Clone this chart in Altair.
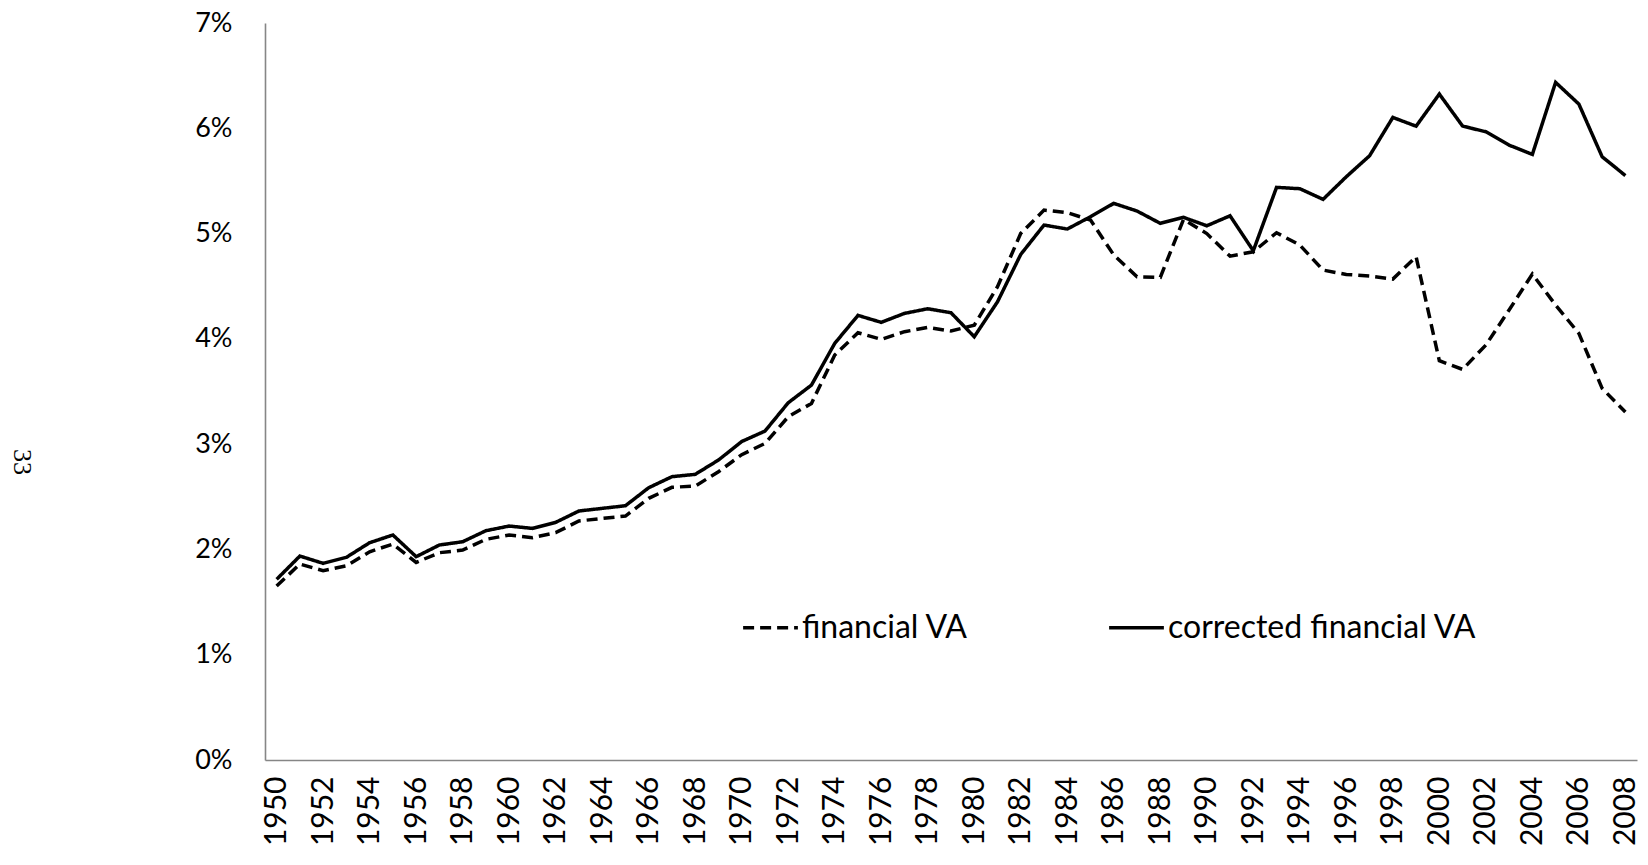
import altair as alt
import pandas as pd

years = list(range(1950, 2009))

corrected_va = [
    1.716, 1.937, 1.868, 1.925, 2.064, 2.137, 1.931, 2.042, 2.073, 2.178,
    2.222, 2.200, 2.257, 2.365, 2.390, 2.415, 2.586, 2.691, 2.713, 2.849,
    3.025, 3.124, 3.393, 3.561, 3.957, 4.223, 4.157, 4.242, 4.286, 4.248,
    4.020, 4.352, 4.802, 5.081, 5.043, 5.160, 5.287, 5.214, 5.097, 5.154,
    5.074, 5.169, 4.837, 5.439, 5.426, 5.325, 5.540, 5.739, 6.103, 6.020,
    6.325, 6.021, 5.967, 5.840, 5.752, 6.436, 6.230, 5.730, 5.551,
]

financial_va = [
    1.652, 1.861, 1.798, 1.845, 1.978, 2.051, 1.877, 1.969, 1.994, 2.096,
    2.136, 2.112, 2.159, 2.270, 2.295, 2.317, 2.485, 2.590, 2.602, 2.738,
    2.900, 3.007, 3.260, 3.387, 3.846, 4.058, 3.995, 4.068, 4.109, 4.074,
    4.130, 4.495, 5.002, 5.223, 5.198, 5.128, 4.796, 4.590, 4.584, 5.135,
    5.000, 4.786, 4.827, 5.008, 4.891, 4.653, 4.612, 4.596, 4.568, 4.780,
    3.792, 3.710, 3.941, 4.274, 4.615, 4.321, 4.052, 3.530, 3.305,
]

series_names = ["financial VA", "corrected financial VA"]
x_tick_labels = list(range(1950, 2009, 2))
y_tick_values = [0, 1, 2, 3, 4, 5, 6, 7]
page_number = "33"

rows = []
for yr, v in zip(years, financial_va):
    rows.append({"year": yr, "value": v, "series": series_names[0]})
for yr, v in zip(years, corrected_va):
    rows.append({"year": yr, "value": v, "series": series_names[1]})
df = pd.DataFrame(rows)

FONT = "Lato"

lines = alt.Chart(df).mark_line(strokeWidth=3.5, color="black").encode(
    x=alt.X(
        "year:Q",
        scale=alt.Scale(domain=[1949.5, 2008.5], nice=False, zero=False),
        axis=alt.Axis(
            values=x_tick_labels, format="d", labelAngle=270, ticks=False, grid=False,
            title=None, labelFont=FONT, labelFontSize=30, labelColor="black",
            labelPadding=16, domainColor="#868686", domainWidth=1.6,
            labelAlign="right", labelBaseline="middle", labelFlush=False,
            labelOverlap=False,
        ),
    ),
    y=alt.Y(
        "value:Q",
        scale=alt.Scale(domain=[0, 7], nice=False),
        axis=alt.Axis(
            values=y_tick_values, labelExpr="datum.value + '%'", ticks=False, grid=False,
            title=None, labelFont=FONT, labelFontSize=27, labelColor="black",
            labelPadding=33, domainColor="#868686", domainWidth=1.6,
        ),
    ),
    strokeDash=alt.StrokeDash(
        "series:N",
        scale=alt.Scale(domain=series_names, range=[[11, 6], [1, 0]]),
        legend=alt.Legend(
            title=None, orient="none", direction="horizontal", legendX=476, legendY=575,
            symbolType="stroke", symbolSize=3000, symbolStrokeWidth=3.5,
            symbolStrokeColor="black", labelFont=FONT, labelFontSize=32,
            labelColor="black", columnPadding=133, labelOffset=2, labelLimit=800,
        ),
    ),
    detail="series:N",
)

page = alt.Chart(pd.DataFrame({"t": [page_number]})).mark_text(
    font="Liberation Serif", fontSize=26, angle=90, color="black",
    align="center", baseline="middle",
).encode(text="t:N", x=alt.value(-243), y=alt.value(439))

chart = alt.layer(lines, page).properties(
    width=1372, height=737,
    autosize=alt.AutoSizeParams(type="none"),
    padding={"left": 257, "top": 15, "right": 3, "bottom": 94},
).configure_view(strokeOpacity=0)

chart.save("out.html", embed_options={"renderer": "svg", "actions": False})
